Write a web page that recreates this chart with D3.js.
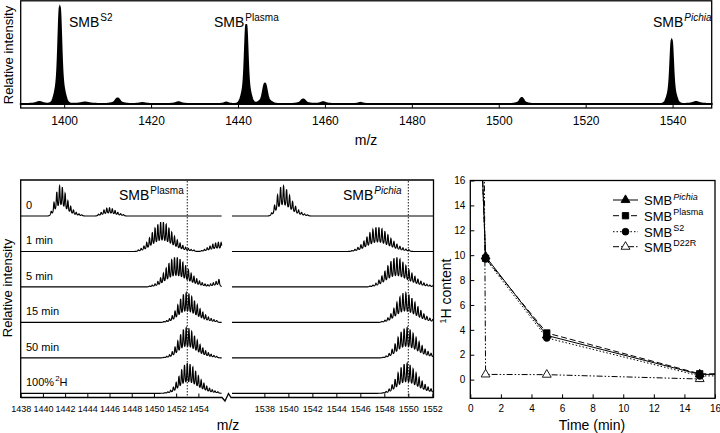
<!DOCTYPE html>
<html><head><meta charset="utf-8">
<script src="https://cdn.jsdelivr.net/npm/d3@7"></script>
<style>
body{margin:0;background:#fff}
svg text{font-family:"Liberation Sans",Arial,sans-serif;fill:#000}
</style>
</head><body>
<svg id="c" width="720" height="433"></svg>
<script>
// ---------------- DATA ----------------
// Top survey spectrum
const topTicks = [1400, 1420, 1440, 1460, 1480, 1500, 1520, 1540];
const topPeakMz     = [1394.3, 1399.0, 1404.8, 1412.3, 1418.0, 1426.3, 1437.3, 1441.9, 1446.2, 1455.0, 1459.6, 1468.2, 1505.3, 1539.8, 1545.4];
const topPeakHeight = [0.02,   0.94,   0.015,  0.055,  0.01,   0.018,  0.015,  0.77,   0.2,    0.045,  0.018,  0.012,  0.06,   0.62,   0.02];
const topPeakWidth  = [0.6,    0.32,   0.8,    0.45,   0.6,    0.5,    0.4,    0.3,    0.4,    0.45,   0.5,    0.4,    0.4,    0.3,    0.6];
const topLabels = ["S2", "Plasma", "Pichia"];

// Exchange time-course spectra (isotope clusters, spacing 0.25 m/z)
const rowLabels = ["0", "1 min", "5 min", "15 min", "50 min", "100%"];
const leftTicks = [1438, 1440, 1442, 1444, 1446, 1448, 1450, 1452, 1454];
const rightTicks = [1538, 1540, 1542, 1544, 1546, 1548, 1550, 1552];
const isoSpacing = 0.25;
const plasmaMainStart = [1440.75, 1448.6, 1449.6, 1450.9, 1450.9, 1451.0];
const plasmaMainIso = [
  [0.15, 0.45, 0.8, 1.0, 0.95, 0.75, 0.5, 0.32, 0.2, 0.12, 0.07, 0.04],
  [0.05, 0.1, 0.18, 0.3, 0.45, 0.62, 0.78, 0.9, 0.97, 0.97, 0.9, 0.78, 0.64, 0.5, 0.38, 0.28, 0.2, 0.14, 0.1, 0.07, 0.05],
  [0.03, 0.06, 0.1, 0.18, 0.3, 0.45, 0.62, 0.78, 0.9, 0.98, 0.98, 0.92, 0.82, 0.7, 0.57, 0.45, 0.35, 0.27, 0.2, 0.14, 0.1, 0.07, 0.05, 0.04],
  [0.03, 0.06, 0.12, 0.22, 0.38, 0.58, 0.78, 0.93, 0.98, 0.95, 0.85, 0.72, 0.58, 0.45, 0.34, 0.25, 0.18, 0.13, 0.09, 0.06],
  [0.02, 0.05, 0.1, 0.2, 0.36, 0.56, 0.78, 0.94, 1.0, 0.97, 0.87, 0.73, 0.58, 0.44, 0.33, 0.24, 0.17, 0.12, 0.08, 0.05],
  [0.02, 0.05, 0.1, 0.2, 0.36, 0.56, 0.78, 0.94, 1.0, 0.97, 0.87, 0.73, 0.58, 0.44, 0.33, 0.24, 0.17, 0.12, 0.08, 0.05]
];
const plasmaMinorStart = [1445.0, 1454.3, 1455.1, 1456.5, 1456.5, 1456.5];
const plasmaMinorIso = [
  [0.06, 0.12, 0.2, 0.26, 0.27, 0.24, 0.18, 0.12, 0.08, 0.05],
  [0.03, 0.07, 0.12, 0.18, 0.24, 0.28, 0.3, 0.31],
  [0.05, 0.1, 0.18, 0.26],
  [], [], []
];
const pichiaStart = [1538.6, 1545.3, 1546.8, 1547.8, 1547.9, 1547.9];
const pichiaIso = [
  [0.1, 0.35, 0.7, 0.95, 1.0, 0.88, 0.68, 0.48, 0.32, 0.2, 0.12, 0.07, 0.04],
  [0.03, 0.07, 0.13, 0.22, 0.34, 0.48, 0.62, 0.73, 0.8, 0.8, 0.75, 0.66, 0.55, 0.43, 0.33, 0.24, 0.17, 0.12, 0.08, 0.06],
  [0.03, 0.06, 0.12, 0.22, 0.36, 0.52, 0.7, 0.85, 0.95, 0.98, 0.92, 0.82, 0.7, 0.57, 0.45, 0.35, 0.26, 0.19, 0.13, 0.09, 0.06, 0.04],
  [0.03, 0.07, 0.15, 0.28, 0.46, 0.66, 0.84, 0.96, 0.98, 0.92, 0.8, 0.66, 0.52, 0.39, 0.28, 0.2, 0.14, 0.1],
  [0.02, 0.06, 0.14, 0.28, 0.46, 0.68, 0.86, 0.97, 1.0, 0.93, 0.81, 0.67, 0.53, 0.4, 0.29, 0.21, 0.15, 0.1],
  [0.02, 0.06, 0.14, 0.28, 0.46, 0.68, 0.86, 0.97, 1.0, 0.93, 0.81, 0.67, 0.53, 0.4, 0.29, 0.21, 0.15, 0.1]
];

// 1H content vs time
const timeTicks = [0, 2, 4, 6, 8, 10, 12, 14, 16];
const contentTicks = [0, 2, 4, 6, 8, 10, 12, 14, 16];
const timePts = [0, 1, 5, 15, 50];
const pichiaH = [42, 9.9, 3.55, 0.42, 0.42];
const plasmaH = [42, 9.75, 3.75, 0.47, 0.45];
const s2H     = [42, 9.7, 3.35, 0.3, 0.3];
const d22rTime = [0, 1, 5, 15];
const d22rH    = [200, 0.42, 0.4, 0.05];
const seriesNames = ["Pichia", "Plasma", "S2", "D22R"];

// ---------------- DRAW ----------------
const svg = d3.select("#c");

function smb(g, x, y, sup, size, supSize, italic) {
  const t = g.append("text").attr("x", x).attr("y", y).attr("font-size", size);
  t.append("tspan").text("SMB");
  t.append("tspan").attr("dy", -size * 0.42).attr("dx", 1).attr("font-size", supSize)
    .attr("font-style", italic ? "italic" : "normal").text(sup);
  return t;
}

// ===== TOP PANEL =====
const tx = d3.scaleLinear().domain([1390, 1549]).range([20.7, 711.7]);
const tyTop = d3.scaleLinear().domain([0, 1]).range([104, 1]);
const gTop = svg.append("g");
const topSamples = d3.range(1390, 1549.001, 0.04);
function topI(m) {
  let s = 0;
  for (let i = 0; i < topPeakMz.length; i++) {
    const d = m - topPeakMz[i], w = topPeakWidth[i];
    s += topPeakHeight[i] * (0.68 * Math.exp(-0.5 * (d / w) ** 2) + 0.32 * Math.exp(-0.5 * (d / (2.6 * w)) ** 2));
  }
  return s;
}
gTop.append("path").datum(topSamples)
  .attr("d", d3.area().x(m => tx(m)).y0(tyTop(0)).y1(m => tyTop(topI(m))))
  .attr("fill", "#000").attr("stroke", "#000").attr("stroke-width", 1.8);
gTop.append("rect").attr("x", 20.7).attr("y", 0.8).attr("width", 691).attr("height", 107.2)
  .attr("fill", "none").attr("stroke", "#000").attr("stroke-width", 1.3);
const topAxis = gTop.append("g").attr("transform", "translate(0,108)")
  .call(d3.axisBottom(tx).tickValues(topTicks).tickSize(-3).tickPadding(8).tickFormat(d3.format("d")));
topAxis.select(".domain").remove();
topAxis.selectAll("text").attr("font-size", 12).attr("font-family", '"Liberation Sans",Arial,sans-serif');
topAxis.selectAll("line").attr("stroke-width", 1);
gTop.append("text").attr("x", 366).attr("y", 145).attr("text-anchor", "middle").attr("font-size", 14).text("m/z");
gTop.append("text").attr("transform", "translate(13,55) rotate(-90)").attr("text-anchor", "middle")
  .attr("font-size", 13).text("Relative intensity");
smb(gTop, 69, 27, topLabels[0], 14, 10, false);
smb(gTop, 214, 27, topLabels[1], 14, 10, false);
smb(gTop, 653, 27, topLabels[2], 14, 10, true);

// ===== BOTTOM-LEFT PANEL =====
const lx = d3.scaleLinear().domain([1438, 1456.1]).range([20.7, 221.7]);
const rx = d3.scaleLinear().domain([1535.3, 1552.1]).range([232, 433.5]);
const rowY = d3.scaleLinear().domain([0, 5]).range([216, 393.3]);
const amp = d3.scaleLinear().domain([0, 1]).range([0, 30]);
const gB = svg.append("g");

function combValue(m, clusters) {
  let s = 0;
  for (const [start, hs] of clusters) {
    for (let i = 0; i < hs.length; i++) {
      const d = m - (start + i * isoSpacing);
      if (Math.abs(d) > 0.6) continue;
      s += hs[i] * (0.65 * Math.exp(-0.5 * (d / 0.04) ** 2) + 0.35 * Math.exp(-0.5 * (d / 0.12) ** 2));
    }
  }
  return s / 1.07;
}
for (let r = 0; r < 6; r++) {
  const base = rowY(r);
  const lc = [[plasmaMainStart[r], plasmaMainIso[r]], [plasmaMinorStart[r], plasmaMinorIso[r]]];
  const ls = d3.range(1438, 1456.1, 0.012);
  gB.append("path").datum(ls)
    .attr("d", d3.line().x(m => lx(m)).y(m => base - amp(combValue(m, lc))))
    .attr("fill", "none").attr("stroke", "#000").attr("stroke-width", 1.15);
  const rc = [[pichiaStart[r], pichiaIso[r]]];
  const rs = d3.range(1535.3, 1552.1, 0.012);
  gB.append("path").datum(rs)
    .attr("d", d3.line().x(m => rx(m)).y(m => base - amp(combValue(m, rc))))
    .attr("fill", "none").attr("stroke", "#000").attr("stroke-width", 1.15);
  const lab = gB.append("text").attr("x", 26).attr("y", base - 7).attr("font-size", 11).text(rowLabels[r]);
  if (r === 5) {
    lab.append("tspan").attr("dy", -5).attr("dx", 1).attr("font-size", 8).text("2");
    lab.append("tspan").attr("dy", 5).attr("font-size", 11).text("H");
  }
}
// dotted reference lines
gB.append("line").attr("x1", lx(1453)).attr("x2", lx(1453)).attr("y1", 181).attr("y2", 397)
  .attr("stroke", "#000").attr("stroke-width", 0.9).attr("stroke-dasharray", "1.5,1.5");
gB.append("line").attr("x1", rx(1550)).attr("x2", rx(1550)).attr("y1", 181).attr("y2", 397)
  .attr("stroke", "#000").attr("stroke-width", 0.9).attr("stroke-dasharray", "1.5,1.5");
// frame
gB.append("path").attr("d", "M20.7,398 L20.7,180 L433.5,180 L433.5,398")
  .attr("fill", "none").attr("stroke", "#000").attr("stroke-width", 1.3);
gB.append("path").attr("d", "M20.7,397.5 L222,397.5 L225,401 L228.5,393.5 L231,397.5 L433.5,397.5")
  .attr("fill", "none").attr("stroke", "#000").attr("stroke-width", 1.3);
const la = gB.append("g").attr("transform", "translate(0,397.5)")
  .call(d3.axisBottom(lx).tickValues(leftTicks).tickSize(-4).tickPadding(8).tickFormat(d3.format("d")));
const ra = gB.append("g").attr("transform", "translate(0,397.5)")
  .call(d3.axisBottom(rx).tickValues(rightTicks).tickSize(-4).tickPadding(8).tickFormat(d3.format("d")));
[la, ra].forEach(a => { a.select(".domain").remove(); a.selectAll("text").attr("font-size", 9).attr("font-family", '"Liberation Sans",Arial,sans-serif'); });
gB.append("text").attr("x", 228).attr("y", 430).attr("text-anchor", "middle").attr("font-size", 14).text("m/z");
gB.append("text").attr("transform", "translate(12,288) rotate(-90)").attr("text-anchor", "middle")
  .attr("font-size", 13).text("Relative intensity");
smb(gB, 119, 200, "Plasma", 14, 10, false);
smb(gB, 343, 200, "Pichia", 14, 10, true);

// ===== RIGHT PANEL =====
const px = d3.scaleLinear().domain([0, 16]).range([470.3, 715]);
const py = d3.scaleLinear().domain([-1.5, 16]).range([398.3, 180.5]);
const gR = svg.append("g");
svg.append("defs").append("clipPath").attr("id", "clipR").append("rect")
  .attr("x", 470.3).attr("y", 180.5).attr("width", 244.7).attr("height", 217.8);
const series = [
  {name: seriesNames[0], t: timePts, v: pichiaH, dash: null, marker: "tri", fill: "#000"},
  {name: seriesNames[1], t: timePts, v: plasmaH, dash: "6,3", marker: "sq", fill: "#000"},
  {name: seriesNames[2], t: timePts, v: s2H, dash: "1.5,2", marker: "circ", fill: "#000"},
  {name: seriesNames[3], t: d22rTime, v: d22rH, dash: "6,2,1.5,2,1.5,2", marker: "tri", fill: "#fff"}
];
const lineGen = d3.line().x(d => px(d[0])).y(d => py(d[1]));
function marker(g, type, x, y, fill) {
  let el;
  if (type === "tri") el = g.append("path").attr("d", d3.symbol(d3.symbolTriangle, 34)()).attr("transform", `translate(${x},${y})`);
  else if (type === "sq") el = g.append("path").attr("d", d3.symbol(d3.symbolSquare, 40)()).attr("transform", `translate(${x},${y})`);
  else el = g.append("path").attr("d", d3.symbol(d3.symbolCircle, 36)()).attr("transform", `translate(${x},${y})`);
  el.attr("fill", fill).attr("stroke", "#000").attr("stroke-width", 0.9);
}
const gLines = gR.append("g").attr("clip-path", "url(#clipR)");
series.forEach(s => {
  const pts = s.t.map((t, i) => [t, s.v[i]]);
  gLines.append("path").datum(pts).attr("d", lineGen).attr("fill", "none").attr("stroke", "#000")
    .attr("stroke-width", 1).attr("stroke-dasharray", s.dash);
});
series.slice().reverse().forEach(s => {
  s.t.forEach((t, i) => {
    if (t >= 1 && t <= 16 && s.v[i] <= 16) marker(gR, s.marker, px(t), py(s.v[i]), s.fill);
  });
});
gR.append("rect").attr("x", 470.3).attr("y", 180.5).attr("width", 244.7).attr("height", 217.8)
  .attr("fill", "none").attr("stroke", "#000").attr("stroke-width", 1.3);
const xa = gR.append("g").attr("transform", "translate(0,398.3)")
  .call(d3.axisBottom(px).tickValues(timeTicks).tickSize(-4).tickPadding(7));
const ya = gR.append("g").attr("transform", "translate(470.3,0)")
  .call(d3.axisLeft(py).tickValues(contentTicks).tickSize(-4).tickPadding(5));
[xa, ya].forEach(a => { a.select(".domain").remove(); a.selectAll("text").attr("font-size", 10).attr("font-family", '"Liberation Sans",Arial,sans-serif'); });
gR.append("text").attr("x", 592).attr("y", 430).attr("text-anchor", "middle").attr("font-size", 14).text("Time (min)");
const yl = gR.append("text").attr("transform", "translate(451,291) rotate(-90)").attr("text-anchor", "middle").attr("font-size", 14);
yl.append("tspan").attr("font-size", 9).attr("dy", -5).text("1");
yl.append("tspan").attr("dy", 5).text("H content");
// legend
const legY = [200, 215.7, 231.7, 246.7];
series.forEach((s, i) => {
  const y = legY[i];
  gR.append("line").attr("x1", 613).attr("x2", 638).attr("y1", y).attr("y2", y)
    .attr("stroke", "#000").attr("stroke-width", 1).attr("stroke-dasharray", s.dash);
  marker(gR, s.marker, 625.5, y, s.fill);
  smb(gR, 644, y + 5, s.name, 13, 9, s.name === "Pichia");
});
</script>
</body></html>
